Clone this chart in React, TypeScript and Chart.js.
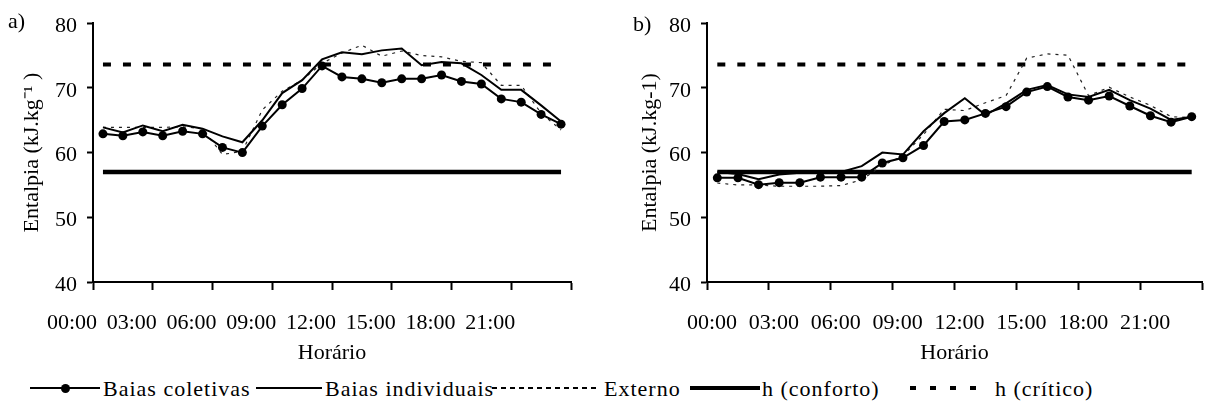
import React, { useEffect, useRef } from 'react';
import { Chart, registerables } from 'chart.js';

Chart.register(...registerables);

const FONT = "'Liberation Serif', 'Times New Roman', serif";

// 24 hourly readings (00:00 … 23:00)
const horas = ["00:00","01:00","02:00","03:00","04:00","05:00","06:00","07:00","08:00","09:00","10:00","11:00","12:00","13:00","14:00","15:00","16:00","17:00","18:00","19:00","20:00","21:00","22:00","23:00"];
const tickLabels = ["00:00","03:00","06:00","09:00","12:00","15:00","18:00","21:00"];
const yTicks = [40, 50, 60, 70, 80];

// Panel a)
const coletivasA = [62.9,62.6,63.2,62.6,63.3,62.9,60.8,60.0,64.1,67.4,69.9,73.4,71.7,71.4,70.8,71.4,71.4,72.0,71.0,70.6,68.3,67.8,65.9,64.4];
const individuaisA = [63.9,63.1,64.2,63.3,64.3,63.7,62.5,61.6,65.0,69.2,71.2,74.4,75.5,75.2,75.8,76.1,73.5,74.0,73.8,72.0,69.7,69.7,67.3,64.8];
const externoA = [63.9,63.9,63.9,63.9,64.0,63.7,59.7,60.2,66.6,69.5,71.2,73.8,75.4,76.6,74.9,75.7,75.0,74.8,74.1,73.9,70.4,70.4,66.1,63.5];

// Panel b)
const coletivasB = [56.1,56.1,55.05,55.35,55.35,56.2,56.2,56.2,58.4,59.2,61.1,64.8,65.05,66.06,67.1,69.35,70.2,68.6,68.1,68.75,67.2,65.7,64.7,65.55];
const individuaisB = [57.0,56.7,55.9,56.6,56.9,57.0,57.0,57.9,60.0,59.7,63.3,66.1,68.4,65.8,67.6,69.7,70.45,69.0,68.6,69.7,68.1,66.8,65.05,65.55];
const externoB = [55.3,55.0,55.0,54.8,54.8,54.8,54.9,55.8,58.0,59.5,62.8,66.7,66.5,67.7,68.8,74.6,75.25,75.05,68.8,70.1,68.6,67.3,65.55,65.4];

// Reference limits
const hConforto = 57.0;
const hCritico = 73.6;

type PanelProps = {
  left: number;
  width: number;
  height: number;
  yTitle: string;
  coletivas: number[];
  individuais: number[];
  externo: number[];
  yWidth: number;
  padRight: number;
  yTitlePad: number;
  labelOffset: number;
};

function Panel(p: PanelProps) {
  const ref = useRef<HTMLCanvasElement>(null);
  useEffect(() => {
    if (!ref.current) return;
    const pts = (arr: number[]) => arr.map((v, i) => ({ x: i + 0.5, y: v }));
    const flat = (v: number) => [
      { x: 0.5, y: v },
      { x: horas.length - 0.5, y: v },
    ];
    const chart = new Chart(ref.current, {
      type: 'line',
      data: {
        datasets: [
          {
            label: 'Baias coletivas',
            data: pts(p.coletivas),
            borderColor: '#000',
            backgroundColor: '#000',
            borderWidth: 2,
            pointRadius: 4.5,
            pointBorderWidth: 0,
            pointBackgroundColor: '#000',
            tension: 0,
          },
          {
            label: 'Baias individuais',
            data: pts(p.individuais),
            borderColor: '#000',
            borderWidth: 2,
            pointRadius: 0,
            tension: 0,
          },
          {
            label: 'Externo',
            data: pts(p.externo),
            borderColor: '#222',
            borderWidth: 1.2,
            borderDash: [3, 5],
            pointRadius: 0,
            tension: 0,
          },
          {
            label: 'h (conforto)',
            data: flat(hConforto),
            borderColor: '#000',
            borderWidth: 4.5,
            pointRadius: 0,
          },
          {
            label: 'h (crítico)',
            data: flat(hCritico),
            borderColor: '#000',
            borderWidth: 4,
            borderDash: [8, 12],
            pointRadius: 0,
          },
        ],
      },
      options: {
        responsive: false,
        animation: false,
        events: [],
        layout: { padding: { top: 18, right: p.padRight, left: 0, bottom: 0 } },
        plugins: { legend: { display: false }, tooltip: { enabled: false } },
        scales: {
          x: {
            type: 'linear',
            min: 0,
            max: horas.length,
            afterFit: (s: any) => { s.height = 88; },
            afterBuildTicks: (s: any) => {
              s.ticks = [0, 3, 6, 9, 12, 15, 18, 21, 24].map((v) => ({ value: v }));
            },
            ticks: {
              autoSkip: false,
              maxRotation: 0,
              color: '#000',
              padding: 20,
              labelOffset: p.labelOffset,
              font: { family: FONT, size: 22 },
              callback: (v: any) => tickLabels[Math.round(Number(v) / 3)] ?? '',
            },
            grid: {
              drawOnChartArea: false,
              drawTicks: true,
              tickLength: 8,
              tickColor: '#000',
              tickWidth: 2,
              color: '#000',
            },
            border: { display: true, color: '#000', width: 2 },
            title: {
              display: true,
              text: 'Horário',
              color: '#000',
              font: { family: FONT, size: 22 },
              padding: { top: 0, bottom: 4 },
            },
          },
          y: {
            type: 'linear',
            min: yTicks[0],
            max: yTicks[yTicks.length - 1],
            afterFit: (s: any) => { s.width = p.yWidth; },
            afterBuildTicks: (s: any) => {
              s.ticks = yTicks.map((v) => ({ value: v }));
            },
            ticks: {
              color: '#000',
              padding: 10,
              labelOffset: 3,
              font: { family: FONT, size: 22 },
            },
            grid: {
              drawOnChartArea: false,
              drawTicks: true,
              tickLength: 6,
              tickColor: '#000',
              tickWidth: 2,
              color: '#000',
            },
            border: { display: true, color: '#000', width: 2 },
            title: {
              display: true,
              text: p.yTitle,
              color: '#000',
              font: { family: FONT, size: 22 },
              padding: { top: p.yTitlePad, bottom: 0 },
            },
          },
        },
      },
    } as any);
    return () => chart.destroy();
  }, []);
  return (
    <div style={{ position: 'absolute', left: p.left, top: 0, width: p.width, height: p.height }}>
      <canvas ref={ref} width={p.width} height={p.height} style={{ display: 'block' }} />
    </div>
  );
}

const legendText: React.CSSProperties = {
  position: 'absolute',
  top: 0,
  fontFamily: FONT,
  fontSize: 22,
  letterSpacing: 1,
  lineHeight: '25px',
  whiteSpace: 'nowrap',
};

function Sample({ left, width, kind }: { left: number; width: number; kind: string }) {
  const base: React.CSSProperties = { position: 'absolute', left, width, top: 12 };
  if (kind === 'dot') {
    return (
      <div style={{ ...base, height: 2, marginTop: -1, background: '#000' }}>
        <div style={{ position: 'absolute', left: width / 2 - 4.5, top: -3.5, width: 9, height: 9, borderRadius: '50%', background: '#000' }} />
      </div>
    );
  }
  if (kind === 'solid') return <div style={{ ...base, height: 2, marginTop: -1, background: '#000' }} />;
  if (kind === 'thin-dash')
    return <div style={{ ...base, height: 2, marginTop: -1, background: 'repeating-linear-gradient(to right, #000 0 5px, transparent 5px 9px)' }} />;
  if (kind === 'thick')
    return <div style={{ ...base, height: 4, marginTop: -2, background: '#000' }} />;
  return <div style={{ ...base, height: 4, marginTop: -2, background: 'repeating-linear-gradient(to right, #000 0 6px, transparent 6px 20px)' }} />;
}

function Legend() {
  return (
    <div style={{ position: 'absolute', left: 0, top: 376, width: 1222, height: 25 }}>
      <Sample left={30} width={70} kind="dot" />
      <div style={{ ...legendText, left: 103 }}>Baias coletivas</div>
      <Sample left={256} width={66} kind="solid" />
      <div style={{ ...legendText, left: 325 }}>Baias individuais</div>
      <Sample left={492} width={108} kind="thin-dash" />
      <div style={{ ...legendText, left: 604 }}>Externo</div>
      <Sample left={690} width={70} kind="thick" />
      <div style={{ ...legendText, left: 762 }}>h (conforto)</div>
      <Sample left={910} width={80} kind="thick-dash" />
      <div style={{ ...legendText, left: 995 }}>h (crítico)</div>
    </div>
  );
}

export default function App() {
  return (
    <div style={{ position: 'fixed', left: 0, top: 0, width: 1222, height: 409, background: '#fff', overflow: 'hidden', color: '#000' }}>
      <Panel left={0} width={600} height={370} yTitle={'Entalpia (kJ.kg\u207B\u00B9 )'}
        coletivas={coletivasA} individuais={individuaisA} externo={externoA}
        yWidth={93} padRight={29} yTitlePad={19} labelOffset={-21} />
      <Panel left={600} width={622} height={370} yTitle={'Entalpia (kJ.kg-1)'}
        coletivas={coletivasB} individuais={individuaisB} externo={externoB}
        yWidth={107} padRight={7} yTitlePad={37} labelOffset={5} />
      <div style={{ position: 'absolute', left: 8, top: 8, fontFamily: FONT, fontSize: 22 }}>a)</div>
      <div style={{ position: 'absolute', left: 633, top: 11, fontFamily: FONT, fontSize: 22 }}>b)</div>
      <Legend />
    </div>
  );
}
